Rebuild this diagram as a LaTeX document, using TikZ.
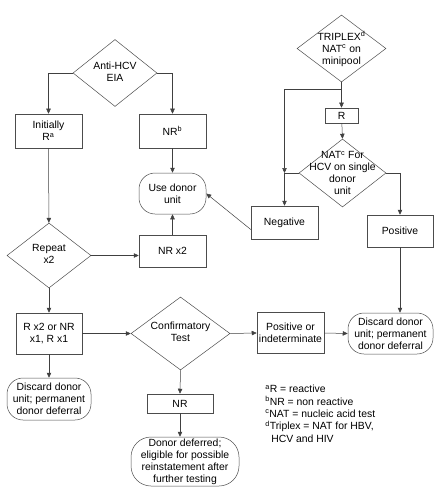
\documentclass[tikz,border=0pt]{standalone}
\usepackage{fontspec}
\setmainfont{Liberation Sans}
\usetikzlibrary{arrows.meta, calc, shapes.geometric}

% text of a diamond, kept out of the shape size
\newcommand{\dtxt}[1]{\smash{\makebox[0pt]{\raisebox{-2.5pt}{\begin{tabular}{@{}c@{}}#1\end{tabular}}}}}

\begin{document}
\begin{tikzpicture}[x=1pt, y=-1pt, line width=0.5pt,
  font=\fontsize{10.4}{12}\selectfont,
  box/.style={draw=black!70, align=center, inner sep=1pt},
  term/.style={box, rounded corners=16pt},
  dec/.style={draw=black!70, shape=diamond, inner sep=0pt},
  link/.style={draw=black!75, -{Triangle[length=5pt,width=4.5pt]}}]
\useasboundingbox (0,0) rectangle (438,500);

% left column
\node[dec, minimum width=84pt, minimum height=67pt] (eia) at (115,73) {\dtxt{Anti-HCV\\EIA}};
\node[box, minimum width=67pt, minimum height=34pt] (ini) at (48.5,131) {Initially\\R\textsuperscript{a}};
\node[box, minimum width=67pt, minimum height=34pt] (nrb) at (172.5,131) {NR\textsuperscript{b}};
\node[term, minimum width=67pt, minimum height=41pt] (use) at (172.5,193.5) {Use donor\\unit};
\node[dec, minimum width=84pt, minimum height=65pt] (rep) at (49,255.5) {\dtxt{Repeat\\x2}};
\node[box, minimum width=67pt, minimum height=32pt] (nrx) at (172.5,251) {NR x2};
\node[box, minimum width=66pt, minimum height=41pt] (rxx) at (49,333.5) {R x2 or NR\\x1, R x1};
\node[term, minimum width=84pt, minimum height=42pt] (dis1) at (49,399) {Discard donor\\unit; permanent\\donor deferral};
\node[dec, minimum width=99pt, minimum height=73pt] (conf) at (180.5,333.5) {\dtxt{Confirmatory\\Test}};
\node[box, minimum width=67pt, minimum height=41pt] (posi) at (290.5,333) {Positive or\\indeterminate};
\node[term, minimum width=85pt, minimum height=41pt] (dis2) at (390.5,333.5) {Discard donor\\unit; permanent\\donor deferral};
\node[box, minimum width=66pt, minimum height=19pt] (nr) at (180,403.5) {NR};
\node[term, rounded corners=20pt, minimum width=108pt, minimum height=49pt] (def) at (185,461.5) {Donor deferred;\\eligible for possible\\reinstatement after\\further testing};

% right column
\node[dec, minimum width=89pt, minimum height=67pt] (tri) at (341.5,48.5) {\raisebox{-2pt}{\dtxt{TRIPLEX\textsuperscript{d}\\NAT\textsuperscript{c} on\\minipool}}};
\node[box, minimum width=33pt, minimum height=15pt] (r) at (341.5,115.5) {R};
\node[dec, minimum width=87pt, minimum height=68pt] (nat) at (342.5,173) {\raisebox{-3pt}{\dtxt{NAT\textsuperscript{c} For\\HCV on single\\donor\\unit}}};
\node[box, minimum width=67pt, minimum height=33pt] (neg) at (284.5,222.5) {Negative};
\node[box, minimum width=66pt, minimum height=32pt] (pos) at (400,231) {Positive};

\node[align=left, anchor=north west, inner sep=0pt, font=\fontsize{10.4}{12.3}\selectfont] (notes) at (265,385)
  {\textsuperscript{a}R = reactive\\\textsuperscript{b}NR = non reactive\\\textsuperscript{c}NAT = nucleic acid test\\\textsuperscript{d}Triplex = NAT for HBV,\\\hspace*{6pt}HCV and HIV};

\coordinate (br) at ($(tri.south)+(0,7)$);
\coordinate (jn) at (neg.north |- nat.west);

\draw[link] (eia.west) -| (ini.north);
\draw[link] (eia.east) -| (nrb.north);
\draw[link] (ini) -- (rep);
\draw[link] (nrb) -- (use);
\draw[link] (rep.east) -- (rep.east -| nrx.west);
\draw[link] (nrx) -- (use);
\draw[link] (rep) -- (rxx);
\draw[link] (rxx) -- (dis1);
\draw[link] (rxx.east) -- (conf.west);
\draw[link] (conf.east) -- (posi.west);
\draw[link] (posi.east) -- (dis2.west);
\draw[link] (conf.south) -- (nr.north);
\draw[link] (nr.south) -- (nr.south |- def.north);

\draw[link] (tri.south) -- (r.north);
\draw[link] (r) -- (nat.north);
\draw[link] (br) -| (jn);
\draw[link] (nat.west) -- (jn) -- (neg.north);
\draw[link] (nat.east) -| (pos.north);
\draw[link] (pos.south) -- (pos.south |- dis2.north);
\draw[link] ($(neg.west)+(0,7)$) -- (use.east);
\end{tikzpicture}
\end{document}
